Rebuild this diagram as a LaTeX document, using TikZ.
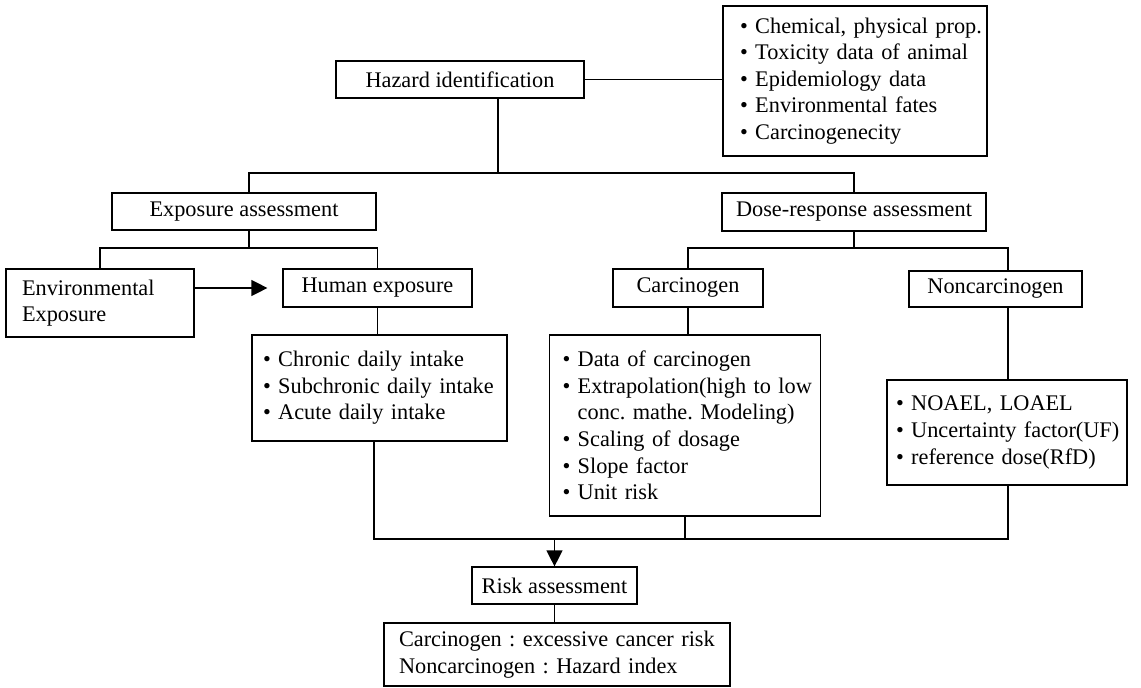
\documentclass[tikz,border=0pt]{standalone}
\usepackage{fontspec}
\setmainfont{Liberation Serif}
\usetikzlibrary{arrows.meta}
\newcommand{\li}[1]{\mbox{\textbullet\ #1}}
\newcommand{\lc}[1]{\mbox{\phantom{\textbullet\ }#1}}
\tikzset{
  box/.style={draw, line width=1.2pt, inner sep=0pt, align=center,
    font=\fontsize{22.3}{26.6}\selectfont\frenchspacing},
  listbox/.style={box, align=left},
  conn/.style={line width=1.3pt},
  arr/.style={conn, -{Triangle[length=16pt,width=16pt]}},
}
\begin{document}
\frenchspacing
\begin{tikzpicture}[x=1pt,y=-1pt]
\useasboundingbox[fill=white] (0,0) rectangle (1141,688);

\node[box, minimum width=248pt, minimum height=37pt] (haz) at (460,79.5) {Hazard identification};
\node[listbox, minimum height=150pt, text width=230pt, inner xsep=17pt] (props) at (855,81)
  {\li{Chemical, physical prop.}\\ \li{Toxicity data of animal}\\ \li{Epidemiology data}\\ \li{Environmental fates}\\ \li{Carcinogenecity}};
\node[box, minimum width=264pt, minimum height=37pt] (expo) at (244,211.5) {Exposure assessment};
\node[box, minimum width=264pt, minimum height=38pt] (dose) at (854,212) {Dose-response assessment};
\node[listbox, minimum height=68pt, text width=156pt, inner xsep=16pt] (env) at (100,303) {Environmental\\Exposure};
\node[box, minimum width=189pt, minimum height=38pt] (human) at (377.5,288) {Human exposure};
\node[listbox, minimum height=106pt, text width=233pt, inner xsep=11pt] (intake) at (379.5,388)
  {\li{Chronic daily intake}\\ \li{Subchronic daily intake}\\ \li{Acute daily intake}};
\node[box, minimum width=150pt, minimum height=38pt] (carc) at (688,288) {Carcinogen};
\node[listbox, minimum height=181pt, text width=245pt, inner xsep=13pt] (data) at (685,425.5)
  {\li{Data of carcinogen}\\ \li{Extrapolation(high to low}\\ \lc{conc. mathe. Modeling)}\\ \li{Scaling of dosage}\\ \li{Slope factor}\\ \li{Unit risk}};
\node[box, minimum width=173pt, minimum height=36pt] (nonc) at (995.5,289) {Noncarcinogen};
\node[listbox, minimum height=105pt, text width=222pt, inner xsep=9pt] (noael) at (1007,432.5)
  {\li{NOAEL, LOAEL}\\ \li{Uncertainty factor(UF)}\\ \li{reference dose(RfD)}};
\node[box, minimum width=165pt, minimum height=37pt] (risk) at (554.5,585.5) {Risk assessment};
\node[listbox, minimum height=63pt, text width=316pt, inner xsep=15pt] (result) at (557,654.5)
  {Carcinogen : excessive cancer risk\\ Noncarcinogen : Hazard index};

% junction points
\coordinate (hj) at (498,173);
\coordinate (ej) at (249,173);
\coordinate (dj) at (854,173);
\coordinate (ej2) at (249,248);
\coordinate (dj2) at (854,248);
\coordinate (nj) at (1008,248);
\coordinate (bus) at (374,539);

\draw[conn] (haz.east) -- (haz.east -| props.west);
\draw[conn] (haz.south -| hj) -- (hj);
\draw[conn] (expo.north -| ej) -- (ej) -- (dj) -- (dose.north -| dj);

\draw[conn] (expo.south -| ej2) -- (ej2);
\draw[conn] (env.north) -- (env.north |- ej2) -- (human.north |- ej2) -- (human.north);
\draw[arr, shorten >=15pt] (env.east |- human.west) -- (human.west);
\draw[conn] (human.south) -- (intake.north -| human.south);

\draw[conn] (dose.south -| dj2) -- (dj2);
\draw[conn] (carc.north) -- (carc.north |- dj2) -- (nj) -- (nonc.north -| nj);
\draw[conn] (carc.south) -- (data.north -| carc.south);
\draw[conn] (nonc.south -| nj) -- (noael.north -| nj);

\draw[conn] (bus |- intake.south) -- (bus) -- (bus -| nj) -- (noael.south -| nj);
\draw[conn] (data.south) -- (data.south |- bus);
\draw[arr] (risk.north |- bus) -- (risk.north);
\draw[conn] (risk.south) -- (risk.south |- result.north);
\end{tikzpicture}
\end{document}
